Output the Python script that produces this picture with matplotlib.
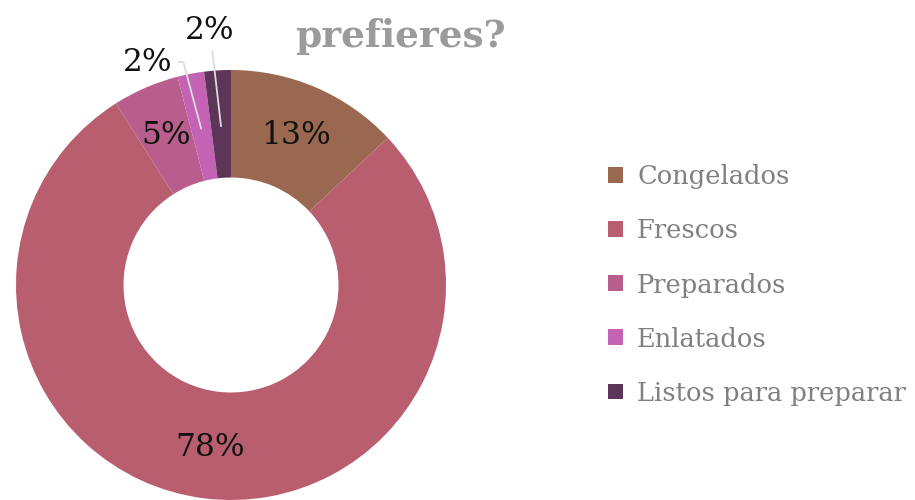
import numpy as np
import matplotlib
matplotlib.use('Agg')
import matplotlib.pyplot as plt

# datos de la encuesta
categorias = ['Congelados', 'Frescos', 'Preparados', 'Enlatados', 'Listos para preparar']
porcentajes = [13, 78, 5, 2, 2]
colores = ['#9a6850', '#b95e6e', '#b95e8c', '#c462b4', '#5c3558']

plt.rcParams['font.family'] = 'DejaVu Serif'

fig = plt.figure(figsize=(9.15, 5), dpi=100)

# ejes cuadrados, centro del anillo en (231, 285) px, radio 215 px
lado = 2.4 * 215
ax = fig.add_axes([(231 - lado / 2) / 915, (215 - lado / 2) / 500, lado / 915, lado / 500])

def etiqueta(pct):
    # los sectores pequeños llevan su etiqueta fuera
    return '' if pct < 4 else f'{pct:.0f}%'

cunas, _, textos = ax.pie(porcentajes, colors=colores, startangle=90, counterclock=False,
                          radius=1, autopct=etiqueta, pctdistance=0.76,
                          wedgeprops=dict(width=0.5, linewidth=0),
                          textprops=dict(fontsize=22.5, color='#111111'))
ax.set_xlim(-1.2, 1.2)
ax.set_ylim(-1.2, 1.2)
ax.set_aspect('equal')
ax.axis('off')

# etiquetas de los sectores de 2% con línea guía
posiciones = {3: (-0.386, 1.037), 4: (-0.098, 1.186)}
conexiones = {3: 'angle,angleA=0,angleB=-75,rad=0', 4: 'arc3'}
for i, (x, y) in posiciones.items():
    c = cunas[i]
    ang = np.deg2rad((c.theta1 + c.theta2) / 2)
    punto = (0.74 * np.cos(ang), 0.74 * np.sin(ang))
    ax.annotate(f'{porcentajes[i]}%', xy=punto, xytext=(x, y), ha='center', va='center',
                fontsize=22.5, color='#111111',
                arrowprops=dict(arrowstyle='-', color='#dcdcdc', lw=1.3,
                                connectionstyle=conexiones[i], shrinkA=2, shrinkB=0))

# título (la primera línea queda fuera de la imagen)
fig.text(400 / 915, 1 - 47 / 500, 'prefieres?', ha='center', va='baseline',
         fontsize=27, fontweight='bold', color='#9b9b9b')

leg = fig.legend(cunas, categorias, loc='center left', bbox_to_anchor=(608 / 915, 0.43),
                 frameon=False, borderpad=0, borderaxespad=0,
                 handlelength=0.58, handleheight=0.58, handletextpad=0.55,
                 labelspacing=1.13, prop=dict(family='DejaVu Serif', size=18.5),
                 labelcolor='#808080')

fig.savefig('out.png', dpi=100)
